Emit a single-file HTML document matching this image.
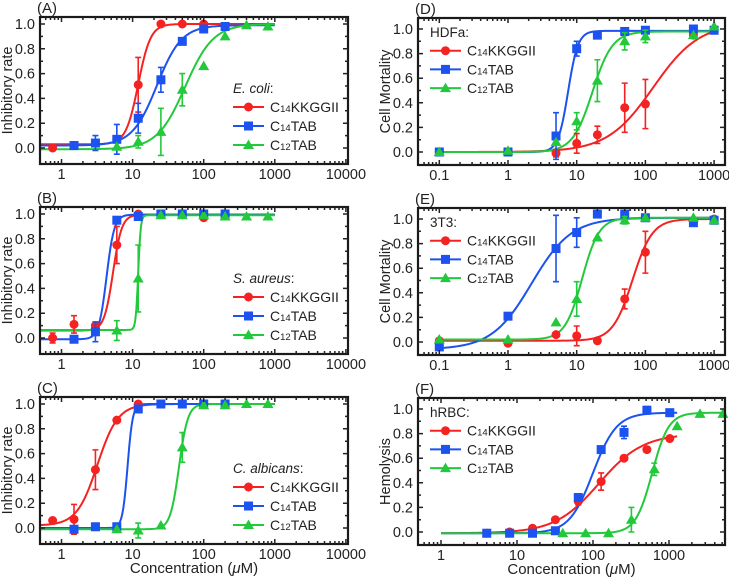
<!DOCTYPE html>
<html><head><meta charset="utf-8"><style>
body{margin:0;background:#fff}
svg{display:block;font-family:"Liberation Sans",sans-serif}
</style></head><body>
<svg id="fig" width="729" height="577" viewBox="0 0 729 577" xmlns="http://www.w3.org/2000/svg"></svg>
<script>
// ---- data ----
const xA=[0.75,1.5,3,6,12,25,50,100,200,400,800];
const redA=[0,0.02,0.04,0.07,0.51,1,1,1,null,null,null];
const redAerr=[0,0,0,0,0.22,0,0,0,0,0,0];
const blueA=[null,0.02,0.04,0.07,0.24,0.55,0.86,0.96,0.98,null,null];
const blueAerr=[0,0,0.06,0.12,0.12,0.1,0,0,0,0,0];
const greenA=[null,null,null,0.01,0.05,0.13,0.47,0.66,0.9,0.99,0.98];
const greenAerr=[0,0,0,0,0.05,0.19,0.13,0,0,0,0];
const redB=[0,0.11,0.1,0.75,1,1,1,0.97,null,null,null];
const redBerr=[0.04,0.07,0,0.15,0,0,0,0,0,0,0];
const blueB=[null,-0.01,0.05,0.95,0.98,1,1,1,1,null,null];
const blueBerr=[0,0,0.08,0,0,0,0,0,0,0,0];
const greenB=[null,null,null,0.06,0.48,0.99,0.99,0.99,0.98,0.98,0.98];
const greenBerr=[0,0,0,0.08,0.27,0,0,0,0,0,0];
const redC=[0.06,0.07,0.47,0.87,1,null,null,null,null,null,null];
const redCerr=[0,0.12,0.16,0,0,0,0,0,0,0,0];
const blueC=[null,-0.01,0.01,0.01,0.96,1,1,1,1,null,null];
const blueCerr=[0,0,0,0,0,0,0,0,0,0,0];
const greenC=[null,null,null,-0.01,-0.02,0.02,0.65,0.99,0.99,1,1];
const greenCerr=[0,0,0,0,0.06,0,0.12,0,0,0,0];
const xD=[0.1,1,5,10,20,50,100,500,1000];
const redD=[0,0,-0.01,0.07,0.14,0.36,0.39,0.95,0.99];
const redDerr=[0,0,0.03,0.08,0.07,0.2,0.2,0,0];
const blueD=[0,0,0.13,0.84,0.95,0.98,0.99,1,0.99];
const blueDerr=[0,0,0.19,0.06,0,0,0,0,0];
const greenD=[0,0.01,0.08,0.25,0.58,0.9,0.94,0.95,1.02];
const greenDerr=[0,0,0,0.07,0.17,0.07,0.05,0,0];
const redE=[0.01,-0.01,0.06,0.05,0.01,0.35,0.73,0.98,1];
const redEerr=[0,0,0,0.08,0,0.08,0.17,0,0];
const blueE=[-0.04,0.21,0.76,0.89,1.04,1.04,1.01,0.97,0.99];
const blueEerr=[0,0,0.27,0.12,0,0,0,0,0];
const greenE=[0.02,0.02,0.16,0.35,0.85,0.99,1.01,1.01,0.99];
const greenEerr=[0,0,0,0.14,0,0.03,0,0,0];
const xF=[4,8,16,32,64,128,256,512,1024];
const xFg=[40,80,160,320,640,1280,2560,5120];
const redF=[-0.01,0,0.03,0.1,0.25,0.41,0.6,0.67,0.76];
const redFerr=[0,0,0,0,0.03,0.07,0,0,0];
const blueF=[-0.01,-0.01,-0.01,0.01,0.28,0.67,0.81,0.99,0.97];
const blueFerr=[0,0,0,0,0.03,0,0.05,0.03,0];
const greenF=[-0.01,-0.01,-0.01,0.1,0.51,0.86,0.96,0.96];
const greenFerr=[0,0,0,0.1,0.05,0,0,0];
// fit params: [bottom, top, ec50, hill]
const fitA=[[0.03,1,12,5],[0.02,0.99,22,2.5],[-0.01,1,55,2.2]];
const fitB=[[0.06,0.995,5.3,7],[-0.01,0.995,4.3,8],[0.065,0.99,12,25]];
const fitC=[[0.02,1,3.2,3],[0,1,8.5,12],[-0.01,1,45,7]];
const fitD=[[0,1.05,130,1.3],[0,0.985,7.5,6],[0,0.98,17,3]];
const fitE=[[0.01,1,65,3],[-0.06,1.01,2.2,1.5],[0.02,1.01,12,3.5]];
const fitF=[[-0.01,0.8,120,1.5],[-0.01,0.97,100,2.8],[-0.01,0.97,600,4]];
const yTicks=[0,0.2,0.4,0.6,0.8,1.0];
const xTicksL=[1,10,100,1000,10000];
const xTicksR=[0.1,1,10,100,1000];
const xTicksF=[1,10,100,1000];

const COL=['#f52222','#1b52f0','#22c93a'];
const NAMES=['KKGGII','TAB','TAB'];
const SUBS=['14','14','12'];
const svg=document.getElementById('fig');
const NS='http://www.w3.org/2000/svg';
function mk(tag,attrs,parent){const e=document.createElementNS(NS,tag);for(const k in attrs)e.setAttribute(k,attrs[k]);(parent||svg).appendChild(e);return e;}

function panel(p){
  const g=mk('g',{});
  
  
  const X=v=>p.x0+p.dec*Math.log10(v);
  const Y=v=>p.y0-(p.y0-p.y1)*v;
  const L=p.left,R=p.right,T=p.top,B=p.bottom;
  p.fits.forEach((f,i)=>{
    let d='';const a=Math.log10(p.cr[i][0]),b=Math.log10(p.cr[i][1]);
    for(let k=0;k<=200;k++){const lv=a+(b-a)*k/200,v=Math.pow(10,lv);
      const y=f[0]+(f[1]-f[0])/(1+Math.pow(f[2]/v,f[3]));
      d+=(k?'L':'M')+X(v).toFixed(2)+' '+Y(y).toFixed(2);}
    const c=mk('path',{d,fill:'none',stroke:COL[i],'stroke-width':2},g);
    
    
  });
  p.series.forEach((s,i)=>{
    const xs=p.xs[i];
    s.vals.forEach((v,j)=>{
      if(v==null)return;
      const cx=X(xs[j]),cy=Y(v),e=s.err[j];
      if(e>0){
        const eb=mk('path',{d:`M${cx} ${Y(v-e)}V${Y(v+e)}M${cx-3} ${Y(v-e)}h6M${cx-3} ${Y(v+e)}h6`,stroke:COL[i],'stroke-width':1.6,fill:'none'},g);
        
        
      }
      let m;
      if(i==0)m=mk('circle',{cx,cy,r:4.5,fill:COL[i]},g);
      else if(i==1)m=mk('rect',{x:cx-4.5,y:cy-4.5,width:9,height:9,fill:COL[i]},g);
      else m=mk('path',{d:`M${cx} ${cy-5.5}L${cx+5.5} ${cy+4}L${cx-5.5} ${cy+4}Z`,fill:COL[i]},g);
      
      
    });
  });
  const fr=mk('rect',{x:L,y:T,width:R-L,height:B-T,fill:'none',stroke:'#1a1a1a','stroke-width':2.2},g);
  
  
  let td='';
  const lo=Math.floor((L-p.x0)/p.dec),hi=Math.ceil((R-p.x0)/p.dec);
  for(let d=lo;d<=hi;d++)for(let m=1;m<10;m++){const x=p.x0+p.dec*(d+Math.log10(m));if(x<=L+1||x>=R-1)continue;
    const len=m==1?5:3;td+=`M${x} ${B}v${-len}M${x} ${T}v${len}`;}
  yTicks.forEach(v=>{const y=Y(v);td+=`M${L} ${y}h5M${R} ${y}h-5`;});
  for(let v=0.1;v<1.05;v+=0.2){const y=Y(v);td+=`M${L} ${y}h3M${R} ${y}h-3`;}
  mk('path',{d:td,stroke:'#222','stroke-width':1.5,fill:'none'},g);
  yTicks.forEach(v=>{const t=mk('text',{x:L-5,y:Y(v)+5,'text-anchor':'end','font-size':14.5,fill:'#222'},g);t.textContent=v.toFixed(1);
    
    });
  p.xt.forEach(v=>{const t=mk('text',{x:X(v),y:B+15,'text-anchor':'middle','font-size':14.5,fill:'#222'},g);t.textContent=String(v);
    
    });
  const pl=mk('text',{x:L-3,y:T-4,'font-size':15,fill:'#222'},g);pl.textContent='('+p.id+')';
  
  
  const cy=(T+B)/2;
  const yt=mk('text',{x:0,y:0,transform:`translate(${L-28},${cy}) rotate(-90)`,'text-anchor':'middle','font-size':14.5,fill:'#222'},g);
  yt.textContent=p.ytitle;
  
  
  if(p.xtitle){const xt=mk('text',{x:(L+R)/2,y:B+29,'text-anchor':'middle','font-size':15,fill:'#222'},g);
    xt.innerHTML='Concentration (<tspan font-style="italic">μ</tspan>M)';
    
    }
  const lg=mk('g',{},g);
  
  
  const lt=mk('text',{x:p.lx,y:p.ly,'font-size':13.5,fill:'#222'},lg);
  if(p.italic){const a=mk('tspan',{'font-style':'italic'},lt);a.textContent=p.ltitle;const b=mk('tspan',{},lt);b.textContent=':';}
  else lt.textContent=p.ltitle;
  for(let i=0;i<3;i++){
    const y=p.ly+p.lgap*(i+1)-5;
    mk('line',{x1:p.lx,x2:p.lx+31,y1:y,y2:y,stroke:COL[i],'stroke-width':2},lg);
    const cx=p.lx+15.5;
    if(i==0)mk('circle',{cx,cy:y,r:4.5,fill:COL[i]},lg);
    else if(i==1)mk('rect',{x:cx-4.5,y:y-4.5,width:9,height:9,fill:COL[i]},lg);
    else mk('path',{d:`M${cx} ${y-5.5}L${cx+5.5} ${y+4}L${cx-5.5} ${y+4}Z`,fill:COL[i]},lg);
    const t=mk('text',{x:p.lx+37,y:y+5,'font-size':14,fill:'#222'},lg);
    t.innerHTML=`C<tspan font-size="9.5">${SUBS[i]}</tspan>${NAMES[i]}`;
    
    
  }
}
const left=(id,off,series,fits,title,xtitle)=>({id,left:40,right:348,top:17+off,bottom:164+off,x0:61.5,dec:71.1,y0:148+off,y1:24+off,
  xs:[xA,xA,xA],series,fits,cr:[[0.5,1000],[0.5,1000],[0.5,1000]],xt:xTicksL,ytitle:'Inhibitory rate',xtitle,
  lx:233,ly:93+off,lgap:19,ltitle:title,italic:true});
panel(left('A',0,[{vals:redA,err:redAerr},{vals:blueA,err:blueAerr},{vals:greenA,err:greenAerr}],fitA,'E. coli',false));
panel(left('B',190,[{vals:redB,err:redBerr},{vals:blueB,err:blueBerr},{vals:greenB,err:greenBerr}],fitB,'S. aureus',false));
panel(left('C',380,[{vals:redC,err:redCerr},{vals:blueC,err:blueCerr},{vals:greenC,err:greenCerr}],fitC,'C. albicans',true));
const right=(id,off,xs,x0,dec,series,fits,cr,xt,ytitle,title,xtitle)=>({id,left:418,right:725,top:18+off,bottom:165+off,x0,dec,y0:152+off,y1:29+off,
  xs,series,fits,cr,xt,ytitle,xtitle,lx:430,ly:37+off,lgap:18.7,ltitle:title,italic:false});
panel(right('D',0,[xD,xD,xD],508,68.7,[{vals:redD,err:redDerr},{vals:blueD,err:blueDerr},{vals:greenD,err:greenDerr}],fitD,[[0.1,1000],[0.1,1000],[0.1,1000]],xTicksR,'Cell Mortality','HDFa:',false));
panel(right('E',190,[xD,xD,xD],508,68.7,[{vals:redE,err:redEerr},{vals:blueE,err:blueEerr},{vals:greenE,err:greenEerr}],fitE,[[0.1,1000],[0.1,1000],[0.1,1000]],xTicksR,'Cell Mortality','3T3:',false));
panel(right('F',380,[xF,xF,xFg],441,76,[{vals:redF,err:redFerr},{vals:blueF,err:blueFerr},{vals:greenF,err:greenFerr}],fitF,[[1,1280],[1,1280],[1,5500]],xTicksF,'Hemolysis','hRBC:',true));
</script>
</body></html>
